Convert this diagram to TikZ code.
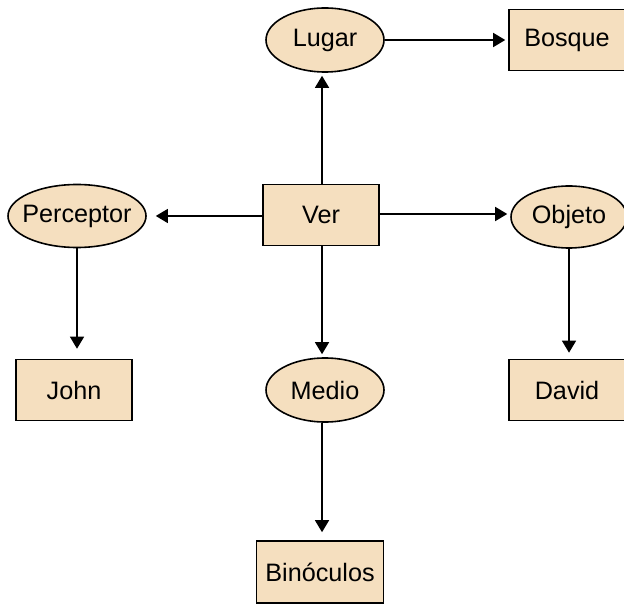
\documentclass[tikz,border=0pt]{standalone}
\usepackage{fontspec}
\setmainfont{Liberation Sans}
\usetikzlibrary{shapes.geometric,arrows.meta}
\definecolor{framefill}{HTML}{F5DFBF}
\begin{document}
\begin{tikzpicture}[x=0.5pt,y=-0.5pt,
	slot/.style = {draw, ellipse, fill=framefill, line width=0.8pt, inner sep=0pt, minimum width=59pt, minimum height=32pt, font=\fontsize{12.6}{14}\selectfont},
	filler/.style = {draw, rectangle, fill=framefill, line width=0.8pt, inner sep=0pt, minimum width=58pt, minimum height=30.5pt, font=\fontsize{12.6}{14}\selectfont},
	link/.style = {line width=0.7pt, -{Triangle[length=6pt,width=7pt]}, shorten >=1.5pt}]
	\useasboundingbox (0,0) rectangle (624,603);
	\node[filler] (ver) at (321,215) {Ver};
	\node[slot] (lugar) at (325,40) {Lugar};
	\node[filler] (bosque) at (567,40) {Bosque};
	\node[slot, inner xsep=-3.5pt, minimum width=69pt, minimum height=31.5pt] (perceptor) at (77,216) {Perceptor};
	\node[slot, minimum width=58pt, minimum height=31pt] (objeto) at (569,217) {Objeto};
	\node[filler] (john) at (74,390) {John};
	\node[slot] (medio) at (325,390) {Medio};
	\node[filler] (david) at (567,390) {David};
	\node[filler, minimum width=63.5pt, minimum height=31pt] (binoculos) at (320,572) {Binóculos};
	\draw[link] (ver.north -| 322,0) -- (lugar.south -| 322,0);
	\draw[link] (lugar) -- (bosque);
	\draw[link, shorten >=4.5pt] (ver.west |- 0,216) -- (perceptor.east |- 0,216);
	\draw[link] (ver.east |- 0,214) -- (objeto.west |- 0,214);
	\draw[link] (ver.south -| 322,0) -- (medio.north -| 322,0);
	\draw[link, shorten >=5pt] (perceptor) -- (perceptor |- john.north);
	\draw[link, shorten >=3pt] (objeto) -- (objeto |- david.north);
	\draw[link, shorten >=4pt] (medio.south -| 322,0) -- (binoculos.north -| 322,0);
\end{tikzpicture}
\end{document}
